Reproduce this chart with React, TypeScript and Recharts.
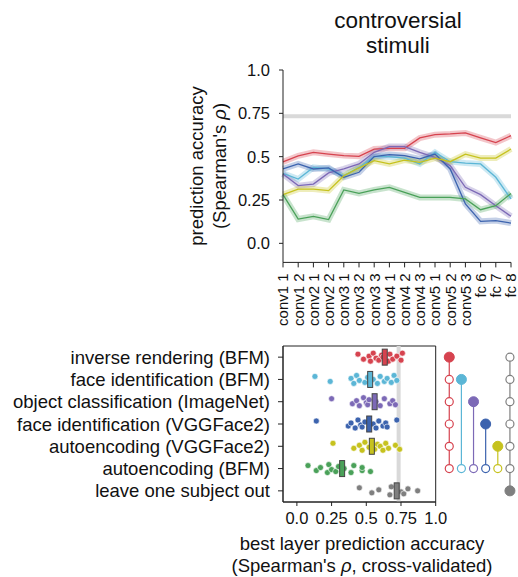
import React from 'react';
import {
  LineChart, Line, XAxis, YAxis, ReferenceLine, ScatterChart, Scatter, ReferenceArea,
} from 'recharts';

// layers of the VGG network along the top chart x axis
const LAYERS = [
  'conv1 1', 'conv1 2', 'conv2 1', 'conv2 2', 'conv3 1', 'conv3 2', 'conv3 3',
  'conv4 1', 'conv4 2', 'conv4 3', 'conv5 1', 'conv5 2', 'conv5 3', 'fc 6', 'fc 7', 'fc 8',
];

// per-layer prediction accuracy, one array per training objective
const INVERSE_RENDERING_BFM = [0.47, 0.505, 0.525, 0.515, 0.506, 0.502, 0.544, 0.548, 0.548, 0.608, 0.627, 0.631, 0.637, 0.608, 0.581, 0.621];
const FACE_ID_BFM = [0.404, 0.371, 0.438, 0.429, 0.39, 0.438, 0.5, 0.5, 0.492, 0.458, 0.525, 0.471, 0.463, 0.458, 0.381, 0.256];
const OBJECT_IMAGENET = [0.4, 0.333, 0.342, 0.406, 0.429, 0.458, 0.525, 0.558, 0.558, 0.525, 0.496, 0.448, 0.323, 0.281, 0.217, 0.156];
const FACE_ID_VGGFACE2 = [0.429, 0.458, 0.429, 0.435, 0.381, 0.41, 0.5, 0.512, 0.506, 0.487, 0.515, 0.429, 0.227, 0.127, 0.131, 0.117];
const AUTOENC_VGGFACE2 = [0.281, 0.313, 0.313, 0.304, 0.39, 0.435, 0.477, 0.458, 0.48, 0.467, 0.492, 0.471, 0.515, 0.492, 0.492, 0.544];
const AUTOENC_BFM = [0.281, 0.14, 0.156, 0.137, 0.308, 0.288, 0.308, 0.323, 0.294, 0.265, 0.265, 0.265, 0.256, 0.194, 0.217, 0.288];

const NOISE_CEILING = 0.733;
const Y_TICKS = [0, 0.25, 0.5, 0.75, 1.0];
const Y_TICK_LABELS = ['0.0', '0.25', '0.5', '0.75', '1.0'];

// bottom panel rows
const MODELS = [
  'inverse rendering (BFM)',
  'face identification (BFM)',
  'object classification (ImageNet)',
  'face identification (VGGFace2)',
  'autoencoding (VGGFace2)',
  'autoencoding (BFM)',
  'leave one subject out',
];
const COLORS = ['#d6434f', '#5bb6d6', '#7c69b6', '#3c63ae', '#c6c21e', '#4aa159', '#7f7f7f'];

// best-layer accuracy per subject
const SUBJECT_SCORES = [
  [0.44, 0.48, 0.52, 0.53, 0.55, 0.57, 0.59, 0.61, 0.62, 0.66, 0.67, 0.69, 0.72, 0.75, 0.76],
  [0.13, 0.24, 0.39, 0.41, 0.43, 0.45, 0.49, 0.51, 0.55, 0.58, 0.6, 0.63, 0.65, 0.68, 0.7, 0.72],
  [0.25, 0.4, 0.43, 0.45, 0.48, 0.5, 0.51, 0.52, 0.57, 0.6, 0.63, 0.67, 0.69, 0.71],
  [0.14, 0.37, 0.39, 0.42, 0.44, 0.46, 0.47, 0.49, 0.55, 0.57, 0.59, 0.62, 0.64, 0.65, 0.72],
  [0.26, 0.41, 0.45, 0.47, 0.49, 0.52, 0.56, 0.58, 0.6, 0.62, 0.64, 0.66, 0.71, 0.74],
  [0.08, 0.14, 0.17, 0.22, 0.23, 0.25, 0.28, 0.3, 0.34, 0.39, 0.41, 0.47, 0.47, 0.53],
  [0.45, 0.54, 0.59, 0.67, 0.68, 0.75, 0.77, 0.8, 0.87],
];
const MEAN_SCORES = [0.633, 0.528, 0.56, 0.521, 0.54, 0.326, 0.719];

const X_TICKS = [0, 0.25, 0.5, 0.75, 1.0];
const X_TICK_LABELS = ['0.0', '0.25', '0.5', '0.75', '1.0'];

// pairwise comparison diagram: filled = the better model, hollow = models it beats
const COMPARISONS = [
  { color: 0, filled: 0, hollow: [1, 2, 3, 4, 5] },
  { color: 1, filled: 1, hollow: [5] },
  { color: 2, filled: 2, hollow: [5] },
  { color: 3, filled: 3, hollow: [5] },
  { color: 4, filled: 4, hollow: [5] },
  { color: 6, filled: 6, hollow: [0, 1, 2, 3, 4, 5] },
];

const JITTER = [-3, 2, -1, 4, -4, 1, 3, -2, 0, 4, -3, 2, -1, 3, -4, 1];

const FONT = '"Liberation Sans", Arial, Helvetica, sans-serif';

const lineData = LAYERS.map((name, i) => ({
  i,
  name,
  s0: INVERSE_RENDERING_BFM[i],
  s1: FACE_ID_BFM[i],
  s2: OBJECT_IMAGENET[i],
  s3: FACE_ID_VGGFACE2[i],
  s4: AUTOENC_VGGFACE2[i],
  s5: AUTOENC_BFM[i],
}));

const LayerTick = (props: any) => {
  const { x, y, payload } = props;
  const ty = y + 4;
  return (
    <text
      x={x}
      y={ty}
      transform={`rotate(-90 ${x} ${ty})`}
      textAnchor="end"
      dominantBaseline="central"
      fontSize={15}
      fontFamily={FONT}
      fill="#111"
    >
      {LAYERS[payload.value]}
    </text>
  );
};

const dotShape = (color: string) => (props: any) => {
  const { cx, cy, payload } = props;
  return (
    <circle cx={cx} cy={cy + JITTER[payload.k % JITTER.length]} r={3} fill={color} stroke="#fff" strokeWidth={0.6} />
  );
};

const boxShape = (color: string) => (props: any) => {
  const { cx, cy } = props;
  return <rect x={cx - 2.5} y={cy - 8} width={5} height={16} fill={color} stroke="#444" strokeWidth={1} />;
};

const compShape = (color: string) => (props: any) => {
  const { cx, cy, payload } = props;
  return payload.filled ? (
    <circle cx={cx} cy={cy} r={5} fill={color} stroke={color} strokeWidth={1} />
  ) : (
    <circle cx={cx} cy={cy} r={4} fill="#fff" stroke={color} strokeWidth={1.2} />
  );
};

const text: React.CSSProperties = {
  position: 'absolute',
  fontFamily: FONT,
  color: '#111',
  whiteSpace: 'nowrap',
  textAlign: 'center',
};

export default function App() {
  return (
    <div style={{ position: 'absolute', left: 0, top: 0, width: 518, height: 577, background: '#fff' }}>
      <div style={{ ...text, left: 398, top: 8, transform: 'translateX(-50%)', fontSize: 22.5, lineHeight: '25px' }}>
        controversial<br />stimuli
      </div>
      <div
        style={{
          ...text,
          left: 208,
          top: 166,
          transform: 'translate(-50%, -50%) rotate(-90deg)',
          fontSize: 18.5,
          lineHeight: '23px',
        }}
      >
        prediction accuracy<br />(Spearman's <i>ρ</i>)
      </div>

      <div style={{ position: 'absolute', left: 0, top: 0 }}>
        <LineChart width={518} height={345} data={lineData} margin={{ top: 70, right: 7, bottom: 52.6, left: 223 }}>
          <XAxis
            dataKey="i"
            type="number"
            domain={[0, 15]}
            ticks={LAYERS.map((_, i) => i)}
            interval={0}
            tick={<LayerTick />}
            tickSize={5}
            stroke="#222"
          />
          <YAxis
            type="number"
            domain={[-0.11, 1.0]}
            ticks={Y_TICKS}
            interval={0}
            tickFormatter={(v: number) => Y_TICK_LABELS[Y_TICKS.indexOf(v)]}
            width={60}
            tickSize={4}
            tickMargin={9}
            stroke="#222"
            tick={{ fontSize: 16.5, fill: '#111', fontFamily: FONT }}
          />
          <ReferenceLine y={NOISE_CEILING} stroke="#d9d9d9" strokeWidth={4} />
          {[0, 1, 2, 3, 4, 5].map((s) => (
            <Line
              key={`band${s}`}
              dataKey={`s${s}`}
              stroke={COLORS[s]}
              strokeOpacity={0.3}
              strokeWidth={6}
              dot={false}
              type="linear"
              isAnimationActive={false}
            />
          ))}
          {[0, 1, 2, 3, 4, 5].map((s) => (
            <Line
              key={`line${s}`}
              dataKey={`s${s}`}
              stroke={COLORS[s]}
              strokeWidth={1.3}
              dot={false}
              type="linear"
              isAnimationActive={false}
            />
          ))}
        </LineChart>
      </div>

      <div style={{ position: 'absolute', left: 0, top: 340 }}>
        <ScatterChart width={470} height={237} margin={{ top: 6, right: 34.3, bottom: 45, left: 63 }}>
          <XAxis
            dataKey="x"
            type="number"
            domain={[-0.1, 1.0]}
            ticks={X_TICKS}
            interval={0}
            tickFormatter={(v: number) => X_TICK_LABELS[X_TICKS.indexOf(v)]}
            tickSize={4}
            tickMargin={6}
            stroke="#222"
            tick={{ fontSize: 16.5, fill: '#111', fontFamily: FONT }}
          />
          <YAxis
            dataKey="y"
            type="number"
            reversed
            domain={[-0.5, 6.5]}
            ticks={MODELS.map((_, i) => i)}
            interval={0}
            tickFormatter={(v: number) => MODELS[v]}
            width={220}
            tickSize={5}
            tickMargin={8}
            stroke="#222"
            tick={{ fontSize: 18.5, fill: '#111', fontFamily: FONT }}
          />
          <ReferenceLine x={NOISE_CEILING} stroke="#d9d9d9" strokeWidth={4} />
          <ReferenceArea x1={-0.1} x2={1.0} y1={-0.5} y2={6.5} fill="none" stroke="#222" strokeWidth={1} />
          {SUBJECT_SCORES.map((scores, row) => (
            <Scatter
              key={`dots${row}`}
              data={scores.map((v, k) => ({ x: v, y: row, k }))}
              shape={dotShape(COLORS[row])}
              isAnimationActive={false}
            />
          ))}
          {MEAN_SCORES.map((m, row) => (
            <Scatter
              key={`mean${row}`}
              data={[{ x: m, y: row }]}
              shape={boxShape(COLORS[row])}
              isAnimationActive={false}
            />
          ))}
        </ScatterChart>
      </div>

      <div style={{ position: 'absolute', left: 440, top: 340 }}>
        <ScatterChart width={78} height={237} margin={{ top: 6, right: 2, bottom: 75, left: 3.2 }}>
          <XAxis dataKey="x" type="number" domain={[-0.5, 5.5]} hide />
          <YAxis dataKey="y" type="number" reversed domain={[-0.5, 6.5]} hide />
          {COMPARISONS.map((c, col) => {
            const rows = [c.filled, ...c.hollow].sort((a, b) => a - b);
            const pts = rows.map((r) => ({ x: col, y: r, filled: r === c.filled }));
            return (
              <Scatter
                key={`cmp${col}`}
                data={pts}
                line={{ stroke: COLORS[c.color], strokeWidth: 1.2 }}
                shape={compShape(COLORS[c.color])}
                isAnimationActive={false}
              />
            );
          })}
        </ScatterChart>
      </div>

      <div style={{ ...text, left: 362, top: 533, transform: 'translateX(-50%)', fontSize: 18.5, lineHeight: '22px' }}>
        best layer prediction accuracy<br />(Spearman's <i>ρ</i>, cross-validated)
      </div>
    </div>
  );
}
